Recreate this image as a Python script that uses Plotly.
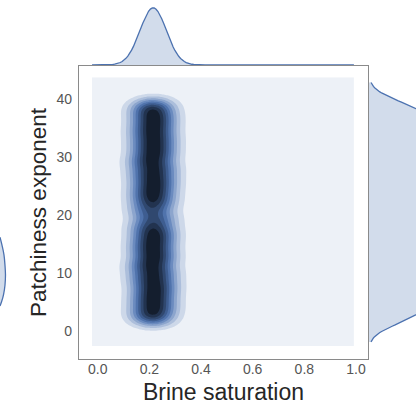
import colorsys
import numpy as np
import plotly.graph_objects as go

# ---------------- data ----------------
patchiness_exponent = [2, 3, 4, 5, 6, 7, 8, 9, 10, 11, 12, 13, 14, 15, 16, 17, 18,
                       19.3, 20.7, 22, 23, 24, 25, 26, 27, 28, 29, 30, 31, 32, 33,
                       34, 35, 36, 37, 38, 39]
brine_saturation = [0.215, 0.206, 0.224, 0.210, 0.220, 0.214, 0.228, 0.200, 0.232,
                    0.196, 0.215, 0.224, 0.206, 0.218, 0.212, 0.226, 0.204,
                    0.228, 0.202, 0.220, 0.208, 0.218, 0.212, 0.226, 0.202, 0.232,
                    0.196, 0.216, 0.222, 0.208, 0.226, 0.206, 0.218, 0.214, 0.220,
                    0.208, 0.216]
x_ticks = [0.0, 0.2, 0.4, 0.6, 0.8, 1.0]
y_ticks = [0, 10, 20, 30, 40]
x_label = "Brine saturation"
y_label = "Patchiness exponent"

# fragment of the neighbouring panel visible at the left edge
neighbour_level = [0.05, 0.10, 0.19, 0.31, 0.44, 0.56, 0.69, 0.81, 0.91]
neighbour_density = [0.0, 0.18, 0.42, 0.60, 0.66, 0.60, 0.48, 0.24, 0.0]

# ---------------- KDE settings ----------------
support_x = (-0.022, 0.992)
support_y = (-2.5, 43.7)
bw2_x, bw2_y = 0.058, 1.1
bw1_x, bw1_y = 0.05, 1.8
cut1 = 2.1
n_levels = 10

sx = np.array(brine_saturation)
sy = np.array(patchiness_exponent)
gx = np.linspace(support_x[0], support_x[1], 140)
gy = np.linspace(support_y[0], support_y[1], 170)
GX, GY = np.meshgrid(gx, gy)
Z = np.zeros_like(GX)
for a, b in zip(sx, sy):
    Z += np.exp(-0.5 * (((GX - a) / bw2_x) ** 2 + ((GY - b) / bw2_y) ** 2))
Z /= len(sx) * 2 * np.pi * bw2_x * bw2_y

kx = np.exp(-0.5 * ((gx[:, None] - sx[None, :]) / bw1_x) ** 2).sum(1) / (len(sx) * bw1_x * np.sqrt(2 * np.pi))
my = np.linspace(sy.min() - cut1 * bw1_y, sy.max() + cut1 * bw1_y, 200)
ky = np.exp(-0.5 * ((my[:, None] - sy[None, :]) / bw1_y) ** 2).sum(1) / (len(sy) * bw1_y * np.sqrt(2 * np.pi))

# seaborn-like cmap: lightness 1 -> 0 of the base colour
base = (76 / 255, 114 / 255, 176 / 255)
h, l, s = colorsys.rgb_to_hls(*base)
pal = np.array([colorsys.hls_to_rgb(h, li, s) for li in np.linspace(1, 0, 12)])
def cmap(t):
    pos = t * 11
    i = min(int(pos), 10)
    f = pos - i
    c = pal[i] * (1 - f) + pal[i + 1] * f
    return "rgb(%d,%d,%d)" % tuple(np.round(c * 255))
band_t = np.linspace(0.05, 0.87, n_levels)
band_colors = [cmap(t) for t in band_t]
colorscale = [[k / (n_levels - 1), c] for k, c in enumerate(band_colors)]
zmax = Z.max()
step = zmax / n_levels

line_blue = "#4C72B0"
fill_blue = "rgba(76,114,176,0.25)"

fig = go.Figure()
fig.add_trace(go.Contour(
    x=gx, y=gy, z=Z, colorscale=colorscale, showscale=False,
    contours=dict(start=step, end=step * (n_levels - 1), size=step, coloring="fill", showlines=False),
    line=dict(width=0), hoverinfo="skip", xaxis="x", yaxis="y"))
fig.add_trace(go.Scatter(
    x=gx, y=kx, mode="lines", fill="tozeroy", fillcolor=fill_blue,
    line=dict(color=line_blue, width=1.3), xaxis="x2", yaxis="y2", hoverinfo="skip"))
fig.add_trace(go.Scatter(
    x=ky, y=my, mode="lines", fill="tozerox", fillcolor=fill_blue,
    line=dict(color=line_blue, width=1.3), xaxis="x3", yaxis="y3", hoverinfo="skip"))
fig.add_trace(go.Scatter(
    x=neighbour_density, y=neighbour_level, mode="lines", fill="tozerox", fillcolor=fill_blue,
    line=dict(color=line_blue, width=1.3, shape="spline"), xaxis="x4", yaxis="y4", hoverinfo="skip"))

W, H = 416, 405
L, R, T, B = 79, 368, 66, 359
xr = [-0.0724, 1.0465]
yr = [-4.72, 45.62]
font = "Liberation Sans, Arial, sans-serif"
frame = dict(showline=True, mirror=True, linecolor="#8a8a8a", linewidth=1.3,
             showgrid=False, zeroline=False)
hidden = dict(visible=False, showgrid=False, zeroline=False)

fig.update_layout(
    width=W, height=H, margin=dict(l=0, r=0, t=0, b=0),
    paper_bgcolor="white", plot_bgcolor="white", showlegend=False,
    font=dict(family=font, color="#262626"),
    xaxis=dict(domain=[L / W, R / W], range=xr, tickvals=x_ticks,
               ticktext=["%.1f" % v for v in x_ticks], ticks="", ticklabelstandoff=-3,
               tickfont=dict(size=14, color="#555555"),
               title=dict(text=x_label, font=dict(size=23, color="#262626"), standoff=8),
               automargin=False, **frame),
    yaxis=dict(domain=[1 - B / H, 1 - T / H], range=yr, tickvals=y_ticks,
               ticks="outside", ticklen=3, tickcolor="rgba(0,0,0,0)",
               tickfont=dict(size=14, color="#555555"),
               title=dict(text=y_label, font=dict(size=22.5, color="#262626"), standoff=3),
               automargin=False, **frame),
    xaxis2=dict(domain=[L / W, R / W], range=xr, **hidden),
    yaxis2=dict(domain=[1 - 65 / H, 1], range=[0, kx.max() * 1.14], **hidden),
    xaxis3=dict(domain=[(R + 1) / W, 1], range=[0, ky.max() * 0.75], **hidden),
    yaxis3=dict(domain=[1 - B / H, 1 - T / H], range=yr, **hidden),
    xaxis4=dict(domain=[0, 8.3 / W], range=[0, 1], **hidden),
    yaxis4=dict(domain=[1 - 310 / H, 1 - 230 / H], range=[0, 1], **hidden),
)
fig.write_html("out.html")
